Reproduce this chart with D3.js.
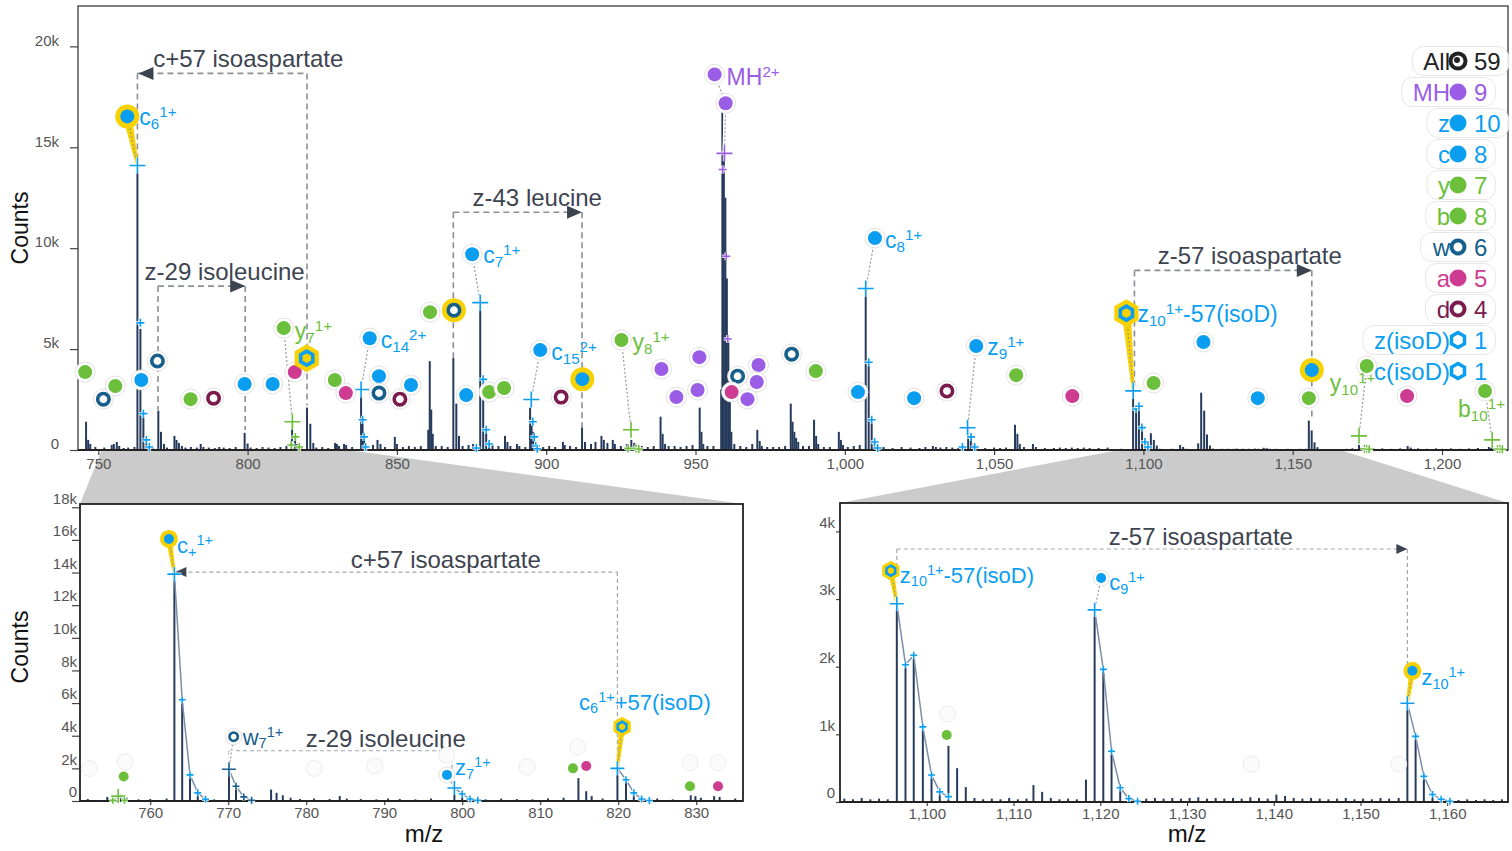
<!DOCTYPE html>
<html lang="en">
<head>
<meta charset="UTF-8">
<title>Spectrum annotation</title>
<script src="https://d3js.org/d3.v7.min.js"></script>
<style>
  body { margin: 0; background: #fff; }
  text { font-family: "Liberation Sans", Arial, sans-serif; }
</style>
</head>
<body>
<div id="chart"></div>
<script>
const W = 1512, H = 851;

// ---- spectrum: [m/z, counts] ----
const spectrum = [
  [745.9,1400],[746.6,500],[747.3,300],[749,150],[752,120],[754.5,250],[755.2,300],[756.2,400],[757,200],[758.5,100],
  [760,120],[762.1,150],[763.1,13900],[764.1,6000],[765.1,1600],[766.1,400],[767.1,120],[768.2,100],[770.1,1950],[771,900],
  [772,300],[773,120],[775.5,700],[776.2,500],[777,350],[778,200],[779.2,120],[781,150],[783,120],[784.3,300],
  [785.2,150],[787,120],[789,100],[790.5,150],[792,120],[794,100],[796,150],[799,850],[800,320],[801,120],
  [803,100],[805,150],[807,120],[809,100],[811,150],[813,200],[814.9,1400],[815.9,600],[816.6,300],[818,150],
  [819.9,2100],[821,1300],[822,350],[823,120],[825,150],[827,100],[829.3,350],[829.9,300],[830.6,200],[832.3,300],
  [833,250],[835,150],[838,2700],[838.5,1500],[839,650],[839.5,200],[842,250],[843.5,500],[844.5,300],[846,150],
  [849.3,650],[850,300],[852,150],[854,200],[856,150],[858,200],[860.5,1000],[861,4400],[861.5,2000],[862,800],
  [863,200],[865,200],[867,150],[868.9,4550],[869.9,2300],[870.8,700],[872,200],[874,250],[875.5,300],[877.9,7200],
  [878.9,3500],[879.9,1100],[880.9,400],[882,250],[884,200],[886.2,700],[887,400],[888,200],[890.2,300],[891,200],
  [893,150],[894.6,2100],[895.1,1600],[895.6,900],[896.1,400],[897,200],[899,150],[901,200],[903,150],[905.6,400],
  [906.2,250],[908,200],[910,150],[912,1100],[913,400],[915,300],[916.5,400],[918.5,700],[919.3,500],[920.5,350],
  [922.3,500],[923,300],[925,200],[927,300],[928.5,500],[929.5,350],[930.5,250],[932,200],[934,150],[936,200],
  [938.3,1650],[939,800],[939.8,300],[941,200],[943,200],[945,150],[947,200],[949,250],[951.4,2100],[952,900],
  [952.6,300],[954,200],[956,200],[958.6,3000],[959,16800],[959.5,15500],[960,12500],[960.5,8500],[961,5500],[961.5,2500],
  [962,900],[963,300],[965,200],[967,150],[969,300],[970.7,1000],[971.5,450],[972.2,200],[974,150],[976,150],
  [978,150],[980,200],[981.9,2300],[982.5,1400],[983.1,900],[983.7,600],[984.4,400],[986,200],[988,200],[989.7,1500],
  [990.4,700],[991.1,300],[993,150],[995,150],[998,900],[998.7,500],[999.4,250],[1001,150],[1003,200],[1005,250],
  [1007,8000],[1008,4350],[1009,1500],[1010,400],[1011,150],[1013,150],[1016,100],[1019,150],[1022,120],[1025,100],
  [1027,150],[1029.5,200],[1030.5,150],[1032,120],[1034,150],[1036,120],[1038,100],[1040.2,200],[1041.3,1100],[1042.2,700],
  [1043.1,300],[1044,100],[1047,100],[1050,120],[1052,100],[1054,120],[1057,1250],[1057.8,800],[1058.6,300],[1060,150],
  [1063,300],[1064,150],[1067,100],[1070,100],[1072,120],[1074,100],[1076,120],[1078,100],[1080,120],[1082,100],
  [1085,100],[1088,120],[1090.5,50],[1091.5,40],[1092.5,60],[1093.5,40],[1094.5,50],[1095.5,40],[1096.55,2930],[1097.55,2030],
  [1098.5,2170],[1099.55,1110],[1100.55,400],[1101.5,150],[1102.5,830],[1103.5,500],[1104.5,220],[1105.5,60],[1106.5,40],[1107.5,50],
  [1108.5,40],[1109.5,60],[1110.5,40],[1111.5,50],[1112.3,250],[1113.3,150],[1114.3,60],[1115.3,40],[1116.3,50],[1117.3,40],
  [1118.35,330],[1119.35,2840],[1120.35,1950],[1121.3,770],[1122.3,220],[1123.3,70],[1124.3,40],[1125.3,50],[1126.3,60],[1127.3,50],
  [1128.3,60],[1129.3,50],[1130.3,60],[1131.3,70],[1132.3,50],[1133.3,60],[1134.3,50],[1135.3,60],[1136.3,50],[1137.3,70],
  [1138.3,60],[1139.3,50],[1140.3,110],[1141.3,90],[1142.3,60],[1143.3,50],[1144.3,60],[1145.3,50],[1146.3,40],[1147.3,50],
  [1148.3,60],[1149.3,40],[1150.3,50],[1151.3,40],[1152.3,60],[1153.3,50],[1154.4,60],[1155.4,1460],[1156.35,970],[1157.3,380],
  [1158.3,140],[1159.3,50],[1160.3,40],[1161.3,30],[1162.3,40],[1163.3,30],[1164.3,40],[1165.3,30],[1166.3,40],[1168,60],
  [1170,80],[1172.2,250],[1173,120],[1175,150],[1177,80],[1180,80],[1183,60],[1186,80],[1188.5,200],[1189.5,120],
  [1192,80],[1195,60],[1198,80],[1200,60],[1203,80],[1206,60],[1209,80],[1212,100],[1215.7,150],[1216.5,100],[1219,80]
];

// ---- legend ----
const legendNames = ["All", "MH", "z", "c", "y", "b", "w", "a", "d", "z(isoD)", "c(isoD)"];
const legendCounts = [59, 9, 10, 8, 7, 8, 6, 5, 4, 1, 1];

// ---- matched ions in the full spectrum ----
const markerType = ["b","w","y","c","c","w","y","d","z","z","y","a","c(isoD)","b","a","c","z","w","d","z",
  "b","w","c","c","y","b","c","d","z","y","MH","MH","MH","MH","MH","MH","w","a","MH","MH",
  "MH","w","b","z","c","z","d","z","b","a","z(isoD)","b","c","z","y","z","y","a","b"];
const markerMz = [745.6,751.7,755.7,759.7,764.4,769.8,780.9,788.6,799.0,808.4,812.1,815.8,819.8,829.2,832.9,840.9,844.0,844.0,851.0,854.7,
  861.1,869.1,875.2,873.2,880.9,885.9,898.0,905.0,912.1,925.2,938.6,943.6,951.3,950.7,956.4,960.1,964.1,962.1,971.1,970.5,
  967.4,982.2,990.3,1004.4,1010.1,1023.2,1034.2,1044.0,1057.4,1076.2,1094.3,1103.4,1120.1,1138.3,1155.4,1156.4,1174.8,1188.3,1214.4];
const markerCounts = [3860,2520,3170,16530,3470,4410,2520,2570,3270,3270,6040,3860,4550,3470,2820,5540,3660,2820,2520,3220,
  6830,6930,9700,2720,2870,3070,4950,2620,3510,5450,4010,2620,4600,2970,18610,17180,3660,2870,4210,3370,
  2520,4750,3910,2870,10500,2570,2920,5150,3710,2670,6780,3320,5350,2570,2570,3960,4160,2670,2920];
const markerHighlight = [3, 12, 21, 28, 50, 55];

// labelled ions in the full spectrum, theoretical isotope positions
const mainLabelMarker = [3, 10, 15, 22, 26, 29, 34, 44, 47, 50, 56, 58];
const mainLabelParts = [
  [["c"],["6","sub"],["1+","sup"]],
  [["y"],["7","sub"],["1+","sup"]],
  [["c"],["14","sub"],["2+","sup"]],
  [["c"],["7","sub"],["1+","sup"]],
  [["c"],["15","sub"],["2+","sup"]],
  [["y"],["8","sub"],["1+","sup"]],
  [["MH"],["2+","sup"]],
  [["c"],["8","sub"],["1+","sup"]],
  [["z"],["9","sub"],["1+","sup"]],
  [["z"],["10","sub"],["1+","sup"],["-57(isoD)"]],
  [["y"],["10","sub"],["1+","sup"]],
  [["b"],["10","sub"],["1+","sup"]]
];
const mainIsoMz = [
  [763.1,764.1,765.1,766.1,767.1],
  [815.0,816.0,814.6,817.3],
  [838.0,838.5,839.0,839.5],
  [877.9,878.9,879.9,880.9,876.6],
  [895.0,895.5,896.0,896.5,897.0],
  [928.4,927.5,930.1,931.0],
  [959.7,959.1,960.3,960.8],
  [1007.0,1008.0,1009.0,1010.0,1011.0],
  [1041.1,1039.4,1042.3,1043.5],
  [1096.6,1097.55,1098.5,1099.5,1100.5,1101.5],
  [1172.2,1174.0,1174.8,1175.6],
  [1216.8,1218.6,1219.4,1220.2]
];
const mainIsoCounts = [
  [14100,6300,1800,500,150],
  [1400,650,250,150],
  [3000,1500,650,150],
  [7300,3500,1000,300,100],
  [2500,1400,650,200,60],
  [1000,80,80,50],
  [14700,13900,9600,5500],
  [8000,4350,1500,400,100],
  [1100,150,650,150],
  [2930,2030,2170,1110,400,150],
  [700,60,60,40],
  [500,50,50,40]
];

// mass-shift annotations in the full spectrum
const mainNoteText = ["c+57 isoaspartate", "z-29 isoleucine", "z-43 leucine", "z-57 isoaspartate"];
const mainNoteFrom = [763.1, 770.0, 868.9, 1097.0];
const mainNoteTo = [819.9, 799.2, 912.0, 1156.4];
const mainNoteLevel = [18660, 8120, 11780, 8900];
const mainNoteFromStop = [14300, 1980, 4550, 3100];
const mainNoteToStop = [2200, 990, 1090, 1500];
const mainNoteArrow = ["left", "right", "right", "right"];
const mainNoteTextMz = [800.2, 792.3, 897.0, 1135.6];

// ---- zoom 751-836 ----
const leftIonType = ["c", "w", "z", "c(isoD)", "y"];
const leftIonMz = [762.4, 770.7, 798.05, 820.5, 756.6];
const leftIonCounts = [16060, 3940, 1600, 4550, 1500];
const leftIonHighlight = [0, 3];
const leftIonParts = [
  [["c"],["+","sub"],["1+","sup"]],
  [["w"],["7","sub"],["1+","sup"]],
  [["z"],["7","sub"],["1+","sup"]],
  [["c"],["6","sub"],["1+","sup"],["+57(isoD)"]],
  []
];
const leftIsoMz = [[763.1,764.1,765.1,766.1,767.1],[770.1,771.0,772.0,773.0],[799.0,800.0,801.0,802.0],[819.9,821.0,822.0,823.0,824.0],[755.2,755.9,756.7]];
const leftIsoCounts = [[13900,6200,1600,500,100],[1950,900,250,50],[800,430,120,50],[2000,1300,500,120,30],[40,300,40]];
const leftDotType = ["y", "a", "y", "a"];
const leftDotMz = [814.2, 815.9, 829.2, 832.8];
const leftDotCounts = [2000, 2150, 900, 900];
const leftGhostMz = [752.2, 756.8, 781.0, 788.8, 798.0, 808.3, 814.8, 829.2, 832.8];
const leftGhostCounts = [2000, 2400, 2000, 2150, 2800, 2100, 3300, 2350, 2350];
const leftNoteText = ["c+57 isoaspartate", "z-29 isoleucine"];
const leftNoteFrom = [763.1, 770.1];
const leftNoteTo = [819.9, 798.7];
const leftNoteLevel = [14030, 3080];
const leftNoteFromStop = [14030, 1950];
const leftNoteToStop = [2000, 800];
const leftNoteArrow = ["left", "right"];
const leftNoteTextMz = [797.9, 790.2];

// ---- zoom 1090-1167 ----
const rightIonType = ["z(isoD)", "c", "z"];
const rightIonMz = [1095.86, 1120.1, 1155.98];
const rightIonCounts = [3420, 3310, 1940];
const rightIonHighlight = [0, 2];
const rightIonParts = [
  [["z"],["10","sub"],["1+","sup"],["-57(isoD)"]],
  [["c"],["9","sub"],["1+","sup"]],
  [["z"],["10","sub"],["1+","sup"]]
];
const rightIsoMz = [[1096.55,1097.55,1098.5,1099.55,1100.55,1101.5,1102.5],[1119.35,1120.35,1121.3,1122.3,1123.3,1124.3],[1155.4,1156.35,1157.3,1158.3,1159.3,1160.3]];
const rightIsoCounts = [[2930,2030,2170,1110,400,150,80],[2840,1960,750,210,50,10],[1460,970,380,110,40,10]];
const rightDotType = ["b"];
const rightDotMz = [1102.3];
const rightDotCounts = [990];
const rightGhostMz = [1102.4, 1137.4, 1154.4];
const rightGhostCounts = [1300, 560, 560];
const rightNoteText = ["z-57 isoaspartate"];
const rightNoteFrom = [1096.55];
const rightNoteTo = [1155.4];
const rightNoteLevel = [3740];
const rightNoteFromStop = [3420];
const rightNoteToStop = [1940];
const rightNoteArrow = ["right"];
const rightNoteTextMz = [1131.6];

// ticks
const mainXTicks = [750, 800, 850, 900, 950, 1000, 1050, 1100, 1150, 1200];
const mainYTicks = [0, 5000, 10000, 15000, 20000];
const leftXTicks = [760, 770, 780, 790, 800, 810, 820, 830];
const leftYTicks = [0, 2000, 4000, 6000, 8000, 10000, 12000, 14000, 16000, 18000];
const rightXTicks = [1100, 1110, 1120, 1130, 1140, 1150, 1160];
const rightYTicks = [0, 1000, 2000, 3000, 4000];

// ---- styles ----
const ionColor = {MH: "#9b5de5", z: "#0b9ef0", c: "#0b9ef0", y: "#6cbf3b", b: "#6cbf3b",
  w: "#175f8c", a: "#cd3c90", d: "#7a1d4e", "z(isoD)": "#0b9ef0", "c(isoD)": "#0b9ef0"};
const ionShape = {w: "ring", d: "ring", "z(isoD)": "hex", "c(isoD)": "hex"};
const YELLOW = "#f7d200", BAR = "#263b5c", NOTE = "#3d4450";
const kfmt = d => d === 0 ? "0" : (d / 1000) + "k";

const svg = d3.select("#chart").append("svg").attr("width", W).attr("height", H);

const panels = {
  main: {x0: 78, x1: 1508, y0: 6, y1: 450, mz: [743.2, 1222.1], top: 22000},
  left: {x0: 80, x1: 743, y0: 504, y1: 801, mz: [751, 836], top: 18200},
  right: {x0: 840, x1: 1508, y0: 503, y1: 802, mz: [1090, 1167], top: 4420}
};
Object.values(panels).forEach(p => {
  p.x = d3.scaleLinear().domain(p.mz).range([p.x0, p.x1]);
  p.y = d3.scaleLinear().domain([0, p.top]).range([p.y1, p.y0]);
});
const M = panels.main, L = panels.left, R = panels.right;

// gray zoom funnels
[L, R].forEach(p => {
  svg.append("path")
    .attr("d", `M${M.x(p.mz[0])},${M.y1 + 1}L${M.x(p.mz[1])},${M.y1 + 1}L${p.x1},${p.y0}L${p.x0},${p.y0}Z`)
    .attr("fill", "#cbcbcb");
});

// panel backgrounds
[M, L, R].forEach(p => {
  svg.append("rect").attr("x", p.x0).attr("y", p.y0).attr("width", p.x1 - p.x0).attr("height", p.y1 - p.y0).attr("fill", "#fff");
});

function hexPath(r) {
  return d3.range(6).map(k => {
    const a = (k * 60 - 90) * Math.PI / 180;
    return (k ? "L" : "M") + (r * Math.cos(a)).toFixed(2) + "," + (r * Math.sin(a)).toFixed(2);
  }).join("") + "Z";
}

function ionLabel(g, x, y, parts, fill, size) {
  const t = g.append("text").attr("x", x).attr("y", y).attr("fill", fill).style("font-size", size + "px");
  let shift = 0;
  parts.forEach(([s, k]) => {
    const target = k === "sub" ? size * 0.17 : k === "sup" ? -size * 0.36 : 0;
    t.append("tspan").attr("dy", target - shift)
      .style("font-size", (k ? size * 0.66 : size) + "px").text(s);
    shift = target;
  });
}

function drawNotes(p, texts, from, to, level, fromStop, toStop, arrow, textMz, opt) {
  const g = svg.append("g");
  texts.forEach((txt, i) => {
    const xa = p.x(from[i]), xb = p.x(to[i]), yl = p.y(level[i]);
    const dash = {stroke: opt.stroke, "stroke-width": opt.sw, "stroke-dasharray": opt.dash, fill: "none"};
    const ln = (x1, y1, x2, y2) => {
      const l = g.append("line").attr("x1", x1).attr("y1", y1).attr("x2", x2).attr("y2", y2);
      Object.entries(dash).forEach(([k, v]) => l.attr(k, v));
    };
    ln(xa, yl, xb, yl);
    if (fromStop[i] < level[i]) ln(xa, yl, xa, p.y(fromStop[i]));
    ln(xb, yl, xb, p.y(toStop[i]));
    const a = opt.arrow;
    const tip = arrow[i] === "left" ? xa + 1 : xb;
    const base = arrow[i] === "left" ? tip + a[0] : tip - a[0];
    g.append("path").attr("d", `M${tip},${yl}L${base},${yl - a[1]}L${base},${yl + a[1]}Z`).attr("fill", NOTE);
    g.append("text").attr("x", p.x(textMz[i])).attr("y", yl - opt.lift).attr("text-anchor", "middle")
      .attr("fill", NOTE).style("font-size", "24px").text(txt);
  });
}

function drawSpectrum(p, id, barW) {
  svg.append("clipPath").attr("id", id).append("rect")
    .attr("x", p.x0).attr("y", p.y0).attr("width", p.x1 - p.x0).attr("height", p.y1 - p.y0);
  svg.append("g").attr("clip-path", `url(#${id})`)
    .selectAll("line").data(spectrum.filter(d => d[0] >= p.mz[0] - 1 && d[0] <= p.mz[1] + 1)).join("line")
    .attr("x1", d => p.x(d[0])).attr("x2", d => p.x(d[0]))
    .attr("y1", p.y(0)).attr("y2", d => p.y(d[1]))
    .attr("stroke", BAR).attr("stroke-width", barW);
}

function drawAxes(p, xt, yt, o) {
  const gx = svg.append("g").attr("transform", `translate(0,${p.y1})`)
    .call(d3.axisBottom(p.x).tickValues(xt).tickSize(o.xs).tickPadding(o.xp).tickFormat(d3.format(",")));
  const gy = svg.append("g").attr("transform", `translate(${p.x0},0)`)
    .call(d3.axisLeft(p.y).tickValues(yt).tickSize(o.ys).tickFormat(kfmt));
  [gx, gy].forEach(g => {
    g.select(".domain").remove();
    g.selectAll(".tick line").attr("stroke", "#444").attr("stroke-width", 1.2);
    g.selectAll(".tick text").attr("fill", "#555").style("font-size", "15px")
      .style("font-family", '"Liberation Sans", Arial, sans-serif');
  });
  gy.selectAll(".tick text").attr("x", o.tx).attr("y", o.ty);
  svg.append("rect").attr("x", p.x0).attr("y", p.y0).attr("width", p.x1 - p.x0).attr("height", p.y1 - p.y0)
    .attr("fill", "none").attr("stroke", o.frame).attr("stroke-width", o.fw);
  svg.append("line").attr("x1", p.x0).attr("x2", p.x1).attr("y1", p.y1).attr("y2", p.y1)
    .attr("stroke", "#222").attr("stroke-width", 2);
}

function drawCross(g, x, y, s, col) {
  const d = `M${x - s},${y}H${x + s}M${x},${y - s}V${y + s}`;
  g.append("path").attr("d", d).attr("stroke", "#fff").attr("stroke-width", 3.5).attr("fill", "none").attr("opacity", 0.9);
  g.append("path").attr("d", d).attr("stroke", col).attr("stroke-width", 1.6).attr("fill", "none");
}

function drawMarker(g, x, y, type, o) {
  const col = ionColor[type], shape = ionShape[type] || "dot";
  const m = g.append("g").attr("transform", `translate(${x},${y})`);
  if (o.hl) {
    if (shape === "hex") m.append("path").attr("d", hexPath(o.hlHex)).attr("fill", YELLOW);
    else m.append("circle").attr("r", o.hlR).attr("fill", YELLOW);
  } else if (o.halo) {
    m.append("circle").attr("r", o.halo).attr("fill", "#fff").attr("stroke", "#e2e2e2").attr("stroke-width", 1);
  }
  if (shape === "dot") m.append("circle").attr("r", o.r).attr("fill", col);
  else if (shape === "ring") m.append("circle").attr("r", o.r - o.ring / 2 + 0.5).attr("fill", "#fff").attr("stroke", col).attr("stroke-width", o.ring);
  else m.append("path").attr("d", hexPath(o.r)).attr("fill", o.hl ? YELLOW : "#fff").attr("stroke", col).attr("stroke-width", o.ring);
}

function connector(g, x1, y1, x2, y2, hl, w) {
  if (hl) g.append("path")
    .attr("d", `M${x1 - w / 2},${y1}L${x1 + w / 2},${y1}L${x2 + 1.5},${y2}L${x2 - 1.5},${y2}Z`)
    .attr("fill", YELLOW);
  else g.append("line").attr("x1", x1).attr("y1", y1).attr("x2", x2).attr("y2", y2)
    .attr("stroke", "#fff").attr("stroke-width", 4);
  g.append("line").attr("x1", x1).attr("y1", y1).attr("x2", x2).attr("y2", y2)
    .attr("stroke", "#9a9a9a").attr("stroke-width", 1.2).attr("stroke-dasharray", "2,2");
}

// ---------- full spectrum ----------
drawNotes(M, mainNoteText, mainNoteFrom, mainNoteTo, mainNoteLevel, mainNoteFromStop, mainNoteToStop,
  mainNoteArrow, mainNoteTextMz, {stroke: "#8a8f97", sw: 1.6, dash: "6,4", arrow: [15, 6.5], lift: 6});
drawSpectrum(M, "clipMain", 2);
drawAxes(M, mainXTicks, mainYTicks, {xs: 5, xp: 3, ys: 8, tx: -19, ty: -6, frame: "#3a3a3a", fw: 1.3});

const gm = svg.append("g");
mainLabelMarker.forEach((mi, i) => {
  const mx = M.x(markerMz[mi]), my = M.y(markerCounts[mi]);
  const cx = M.x(mainIsoMz[i][0]), cy = M.y(mainIsoCounts[i][0]);
  const hl = markerHighlight.includes(mi);
  if (markerType[mi] === "MH") {
    const vx = M.x(markerMz[mi + 1]), vy = M.y(markerCounts[mi + 1]);
    connector(gm, mx, my, vx, vy, false, 0);
    connector(gm, vx, vy, cx, cy, false, 0);
  } else {
    connector(gm, mx, my, cx, cy, hl, 9);
  }
});
mainLabelMarker.forEach((mi, i) => {
  const col = ionColor[markerType[mi]];
  mainIsoMz[i].forEach((mz, k) => drawCross(gm, M.x(mz), M.y(mainIsoCounts[i][k]), k === 0 ? 8 : 4, col));
});
markerMz.forEach((mz, i) => {
  drawMarker(gm, M.x(mz), M.y(markerCounts[i]), markerType[i],
    {r: 7, halo: 10, ring: 3.6, hl: markerHighlight.includes(i), hlR: 12, hlHex: 14});
});
const mainLabelOffset = [[12,9],[11,11],[11,10],[11,9],[11,10],[11,10],[12,11],[10,10],[11,9],[11,9],[-37,25],[-27,26]];
mainLabelMarker.forEach((mi, i) => {
  ionLabel(gm, M.x(markerMz[mi]) + mainLabelOffset[i][0], M.y(markerCounts[mi]) + mainLabelOffset[i][1],
    mainLabelParts[i], ionColor[markerType[mi]], 23);
});

// ---------- zoom panels ----------
function drawZoom(p, id, o) {
  drawNotes(p, o.noteText, o.noteFrom, o.noteTo, o.noteLevel, o.noteFromStop, o.noteToStop,
    o.noteArrow, o.noteTextMz, {stroke: "#a3a7ad", sw: 1.2, dash: "4,3", arrow: [11, 5], lift: 4});
  drawSpectrum(p, id, 2);
  drawAxes(p, o.xt, o.yt, o.axis);
  const g = svg.append("g");
  o.ghostMz.forEach((mz, i) => g.append("circle").attr("cx", p.x(mz)).attr("cy", p.y(o.ghostCounts[i])).attr("r", 8)
    .attr("fill", "#fbfbfb").attr("stroke", "#ececec"));
  o.ionMz.forEach((mz, i) => {
    const hl = o.hl.includes(i);
    const mx = p.x(mz), my = p.y(o.ionCounts[i]);
    const cx = p.x(o.isoMz[i][0]), cy = p.y(o.isoCounts[i][0]);
    if (o.parts[i].length) connector(g, mx, my, cx, cy, hl, 6);
  });
  o.ionMz.forEach((mz, i) => {
    const col = ionColor[o.ionType[i]];
    const pts = o.isoMz[i].map((m, k) => [p.x(m), p.y(o.isoCounts[i][k])]).sort((a, b) => a[0] - b[0]);
    g.append("path").attr("d", d3.line()(pts)).attr("fill", "none").attr("stroke", "#7d8fa8").attr("stroke-width", 1.5);
    o.isoMz[i].forEach((m, k) => drawCross(g, p.x(m), p.y(o.isoCounts[i][k]), o.isoCounts[i][k] === d3.max(o.isoCounts[i]) ? 7 : 3.5, col));
  });
  o.dotMz.forEach((mz, i) => g.append("circle").attr("cx", p.x(mz)).attr("cy", p.y(o.dotCounts[i])).attr("r", 5)
    .attr("fill", ionColor[o.dotType[i]]));
  o.ionMz.forEach((mz, i) => {
    const hl = o.hl.includes(i);
    drawMarker(g, p.x(mz), p.y(o.ionCounts[i]), o.ionType[i],
      {r: 5, halo: o.parts[i].length ? 8 : 0, ring: 2.6, hl: hl, hlR: 9, hlHex: 10});
  });
  o.ionMz.forEach((mz, i) => {
    if (!o.parts[i].length) return;
    ionLabel(g, p.x(mz) + o.offset[i][0], p.y(o.ionCounts[i]) + o.offset[i][1], o.parts[i], ionColor[o.ionType[i]], 22);
  });
}

drawZoom(L, "clipLeft", {
  noteText: leftNoteText, noteFrom: leftNoteFrom, noteTo: leftNoteTo, noteLevel: leftNoteLevel,
  noteFromStop: leftNoteFromStop, noteToStop: leftNoteToStop, noteArrow: leftNoteArrow, noteTextMz: leftNoteTextMz,
  xt: leftXTicks, yt: leftYTicks, axis: {xs: 4, xp: 2, ys: 8, tx: -3, ty: -9, frame: "#222", fw: 1.8},
  ghostMz: leftGhostMz, ghostCounts: leftGhostCounts, dotMz: leftDotMz, dotCounts: leftDotCounts, dotType: leftDotType,
  ionMz: leftIonMz, ionCounts: leftIonCounts, ionType: leftIonType, hl: leftIonHighlight, parts: leftIonParts,
  isoMz: leftIsoMz, isoCounts: leftIsoCounts, offset: [[8,14],[9,8],[8,0],[-43,-17],[0,0]]
});
drawZoom(R, "clipRight", {
  noteText: rightNoteText, noteFrom: rightNoteFrom, noteTo: rightNoteTo, noteLevel: rightNoteLevel,
  noteFromStop: rightNoteFromStop, noteToStop: rightNoteToStop, noteArrow: rightNoteArrow, noteTextMz: rightNoteTextMz,
  xt: rightXTicks, yt: rightYTicks, axis: {xs: 4, xp: 2, ys: 4, tx: -5, ty: -9, frame: "#222", fw: 1.8},
  ghostMz: rightGhostMz, ghostCounts: rightGhostCounts, dotMz: rightDotMz, dotCounts: rightDotCounts, dotType: rightDotType,
  ionMz: rightIonMz, ionCounts: rightIonCounts, ionType: rightIonType, hl: rightIonHighlight, parts: rightIonParts,
  isoMz: rightIsoMz, isoCounts: rightIsoCounts, offset: [[9,12],[8,12],[9,14]]
});

// axis titles
[[28, 228], [28, 647]].forEach(([x, y]) => {
  svg.append("text").attr("transform", `translate(${x},${y}) rotate(-90)`).attr("text-anchor", "middle")
    .attr("fill", "#111").style("font-size", "23px").text("Counts");
});
[424, 1187].forEach(x => {
  svg.append("text").attr("x", x).attr("y", 842).attr("text-anchor", "middle")
    .attr("fill", "#111").style("font-size", "24px").text("m/z");
});

// ---------- legend ----------
const lg = svg.append("g");
legendNames.forEach((name, i) => {
  const cy = 61 + i * 31, ix = 1458;
  const g = lg.append("g");
  const col = name === "All" ? "#222" : ionColor[name];
  const t = g.append("text").attr("x", 1450).attr("y", cy).attr("dy", "0.36em").attr("text-anchor", "end")
    .attr("fill", col).style("font-size", "24px").text(name);
  const n = g.append("text").attr("x", 1474).attr("y", cy).attr("dy", "0.36em")
    .attr("fill", col).style("font-size", "24px").text(legendCounts[i]);
  const tb = t.node().getBBox(), nb = n.node().getBBox();
  if (i < legendNames.length - 1) {
    g.insert("rect", ":first-child").attr("x", tb.x - 11).attr("y", cy - 14.5)
      .attr("width", nb.x + nb.width + 8 - (tb.x - 11)).attr("height", 29).attr("rx", 11)
      .attr("fill", "#fff").attr("fill-opacity", 0.9).attr("stroke", "#e6e6e6");
  }
  if (name === "All") {
    g.append("circle").attr("cx", ix).attr("cy", cy).attr("r", 9.5).attr("fill", "#222");
    g.append("circle").attr("cx", ix).attr("cy", cy).attr("r", 5.5).attr("fill", "#fff");
    g.append("circle").attr("cx", ix - 1).attr("cy", cy - 1).attr("r", 3).attr("fill", "#222");
  } else {
    const shape = ionShape[name] || "dot";
    if (shape === "dot") g.append("circle").attr("cx", ix).attr("cy", cy).attr("r", 8.5).attr("fill", col);
    else if (shape === "ring") g.append("circle").attr("cx", ix).attr("cy", cy).attr("r", 6.5).attr("fill", "#fff").attr("stroke", col).attr("stroke-width", 4);
    else g.append("path").attr("transform", `translate(${ix},${cy})`).attr("d", hexPath(7.5)).attr("fill", "#fff").attr("stroke", col).attr("stroke-width", 3.5);
  }
});
</script>
</body>
</html>
